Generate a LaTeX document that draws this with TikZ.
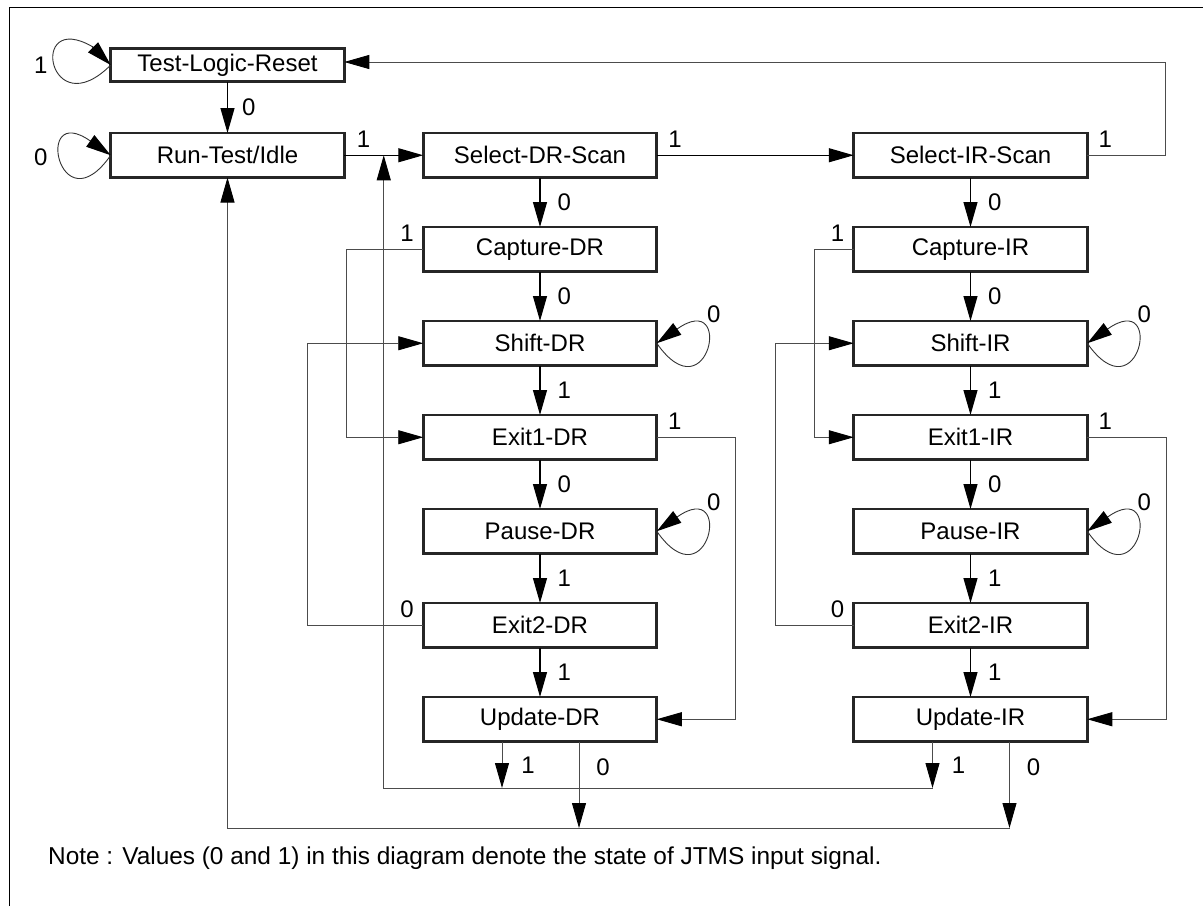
\documentclass[tikz,border=0pt]{standalone}
\usepackage{fontspec}
\setmainfont{Liberation Sans}
\usetikzlibrary{arrows.meta, positioning, calc}

\begin{document}
\begin{tikzpicture}[
    x=1pt, y=1pt,
    node distance=49.5pt and 79pt,
    state/.style={
        rectangle,
        draw=black!85,
        line width=2.8pt,
        minimum width=233.5pt,
        minimum height=44.5pt,
        inner sep=0pt,
        outer sep=0pt,
        font=\fontsize{24}{28}\selectfont
    },
    lbl/.style={inner sep=0pt, font=\fontsize{24}{28}\selectfont},
    flow/.style={draw=black, line width=1.2pt, -{Triangle[length=25pt, width=14pt]}},
    loopline/.style={draw=black!80, line width=0.9pt},
    route/.style={draw=black!70, line width=0.9pt},
    routearr/.style={route, -{Triangle[length=25pt, width=14pt, color=black]}}
]
\useasboundingbox (0,0) rectangle (1203,-906);

% Frame
\draw[line width=1pt] (9,-906) -- (9,-7) -- (1203,-7);

% Reset and Idle
\node[state, minimum height=33.5pt] (trst) at (227.5,-65) {Test-Logic-Reset};
\node[state, below=51.25pt of trst] (rti) {Run-Test/Idle};

% DR column
\node[state, right=79pt of rti] (selDR) {Select-DR-Scan};
\node[state, below=of selDR] (capDR) {Capture-DR};
\node[state, below=of capDR] (shDR) {Shift-DR};
\node[state, below=of shDR] (ex1DR) {Exit1-DR};
\node[state, below=of ex1DR] (paDR) {Pause-DR};
\node[state, below=of paDR] (ex2DR) {Exit2-DR};
\node[state, below=of ex2DR] (updDR) {Update-DR};

% IR column
\node[state, right=197pt of selDR] (selIR) {Select-IR-Scan};
\node[state, below=of selIR] (capIR) {Capture-IR};
\node[state, below=of capIR] (shIR) {Shift-IR};
\node[state, below=of shIR] (ex1IR) {Exit1-IR};
\node[state, below=of ex1IR] (paIR) {Pause-IR};
\node[state, below=of paIR] (ex2IR) {Exit2-IR};
\node[state, below=of ex2IR] (updIR) {Update-IR};

% Note
\node[lbl, anchor=west, font=\fontsize{24.4}{28}\selectfont] (note) at (48,-858)
    {Note : Values (0 and 1) in this diagram denote the state of JTMS input signal.};

% Join points
\coordinate (selJoin) at ($(rti.east)!0.5!(selDR.west)$);
\coordinate (busSel) at ($(updDR.south)+(0,-46.5)$);
\coordinate (busRti) at ($(updDR.south)+(0,-86.5)$);
\coordinate (updDRone) at ([xshift=-38pt]updDR.south);
\coordinate (updDRzero) at ([xshift=39pt]updDR.south);
\coordinate (updIRone) at ([xshift=-38pt]updIR.south);
\coordinate (updIRzero) at ([xshift=39pt]updIR.south);

% Self loops
\coordinate (trstTip) at ($(trst.west)+(135:26)$);
\draw[loopline] (trst.west) .. controls +(225:88) and +(150:75) .. (trstTip);
\path[flow] (trstTip) -- (trst.west);
\node[lbl] (trstLbl) at ($(trst.west)+(-70,0)$) {1};

\coordinate (rtiTip) at ($(rti.west)+(145:25)$);
\draw[loopline] (rti.west) .. controls +(235:90) and +(145:70) .. (rtiTip);
\path[flow] (rtiTip) -- (rti.west);
\node[lbl] (rtiLbl) at ($(rti.west)+(-70,-2)$) {0};

\foreach \s in {shDR, paDR, shIR, paIR} {
    \coordinate (\s Tip) at ($(\s.east)+(35:25)$);
    \draw[loopline] (\s.east) .. controls +(-55:90) and +(35:70) .. (\s Tip);
    \path[flow] (\s Tip) -- (\s.east);
    \node[lbl] (\s Lbl) at ($(\s.east)+(57,29.5)$) {0};
}

% Straight transitions
\path[flow] (trst) -- node[lbl, right=14pt] {0} (rti);
\path[flow] (rti.east) -- node[lbl, pos=0, above right=7pt and 12pt] {1} (selDR.west);
\path[flow] (selDR.east) -- node[lbl, pos=0, above right=7pt and 11pt] {1} (selIR.west);

\path[flow] (selDR) -- node[lbl, right=17pt] {0} (capDR);
\path[flow] (capDR) -- node[lbl, right=17pt] {0} (shDR);
\path[flow] (shDR) -- node[lbl, right=17pt] {1} (ex1DR);
\path[flow] (ex1DR) -- node[lbl, right=17pt] {0} (paDR);
\path[flow] (paDR) -- node[lbl, right=17pt] {1} (ex2DR);
\path[flow] (ex2DR) -- node[lbl, right=17pt] {1} (updDR);

\path[flow] (selIR) -- node[lbl, right=17pt] {0} (capIR);
\path[flow] (capIR) -- node[lbl, right=17pt] {0} (shIR);
\path[flow] (shIR) -- node[lbl, right=17pt] {1} (ex1IR);
\path[flow] (ex1IR) -- node[lbl, right=17pt] {0} (paIR);
\path[flow] (paIR) -- node[lbl, right=17pt] {1} (ex2IR);
\path[flow] (ex2IR) -- node[lbl, right=17pt] {1} (updIR);

% Routed transitions
\path[routearr] (selIR.east) -- node[lbl, pos=0, above right=7pt and 11pt] {1} ++(78.5,0) |- ([yshift=3pt]trst.east);

\path[routearr] (capDR.west) -- node[lbl, pos=0, above left=7pt and 9pt] {1} ++(-77,0) |- (ex1DR.west);
\path[routearr] (ex2DR.west) -- node[lbl, pos=0, above left=7pt and 9pt] {0} ++(-116,0) |- (shDR.west);
\path[routearr] (ex1DR.east) -- node[lbl, pos=0, above right=7pt and 11pt] {1} ++(79,0) |- (updDR.east);

\path[routearr] (capIR.west) -- node[lbl, pos=0, above left=7pt and 9pt] {1} ++(-39,0) |- (ex1IR.west);
\path[routearr] (ex2IR.west) -- node[lbl, pos=0, above left=7pt and 9pt] {0} ++(-78,0) |- (shIR.west);
\path[routearr] (ex1IR.east) -- node[lbl, pos=0, above right=7pt and 11pt] {1} ++(79,0) |- (updIR.east);

% Update exits
\path[routearr] (updDRone) -- node[lbl, right=19pt] {1} (updDRone |- busSel);
\path[routearr] (updIRone) -- node[lbl, right=19pt] {1} (updIRone |- busSel);
\path[routearr] (updIRone |- busSel) -| (selJoin);

\path[routearr] (updDRzero) -- node[lbl, pos=0.3, right=17pt] {0} (updDRzero |- busRti);
\path[routearr] (updIRzero) -- node[lbl, pos=0.3, right=17pt] {0} (updIRzero |- busRti);
\path[routearr] (updIRzero |- busRti) -| (rti.south);

\end{tikzpicture}
\end{document}
